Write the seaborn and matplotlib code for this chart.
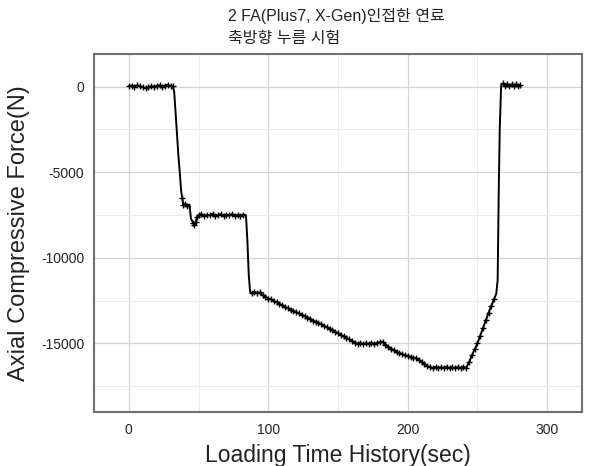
import matplotlib
matplotlib.use("Agg")
import matplotlib.pyplot as plt
import seaborn as sns
import numpy as np
import pandas as pd
from matplotlib.ticker import MultipleLocator

# Data (time in sec, force in N)
time_sec = [0, 2, 4, 6, 8, 10, 12, 14, 16, 18, 20, 22, 24, 26, 28, 30, 31.5,
            32.5, 33.5, 34.5, 35.5, 36.5, 37.5, 38.3, 39, 40.5, 42, 43.5, 44.5, 46, 47, 48, 49, 50,
            52, 54, 56, 58, 60, 62, 64, 66, 68, 70, 72, 74, 76, 78, 80, 82, 84,
            85, 86, 87, 88, 90, 92, 94, 96,
            98, 100, 102, 104, 106, 108, 110, 112, 114, 116, 118, 120, 122, 124, 126, 128,
            130, 132, 134, 136, 138, 140, 142, 144, 146, 148, 150, 152, 154, 156, 158, 160, 162,
            164, 166, 168, 170, 172, 174, 176, 178, 180, 182, 184, 186, 188, 190, 192, 194, 196,
            198, 200, 202, 204, 206, 208, 210, 212, 214, 216, 218, 220, 222, 224, 226, 228, 230,
            232, 234, 236, 238, 240, 242, 244, 246, 248, 250, 252, 254, 256, 258, 260, 262,
            263.5, 264.5, 265.3, 266, 267, 268.5, 270, 271.5, 273, 274.5, 276, 277.5, 279, 280.5]
force_n = [30, 60, -20, 80, 10, -40, -90, -30, 20, -10, 40, 70, 0, 60, 110, 40, 20,
           -300, -1500, -2800, -4000, -5000, -6100, -6500, -6900, -6850, -6950, -6900, -7700, -7950, -8100, -7900, -7600, -7500,
           -7450, -7550, -7480, -7520, -7440, -7560, -7500, -7460, -7540, -7480, -7520, -7450, -7550, -7490, -7530, -7470, -7520,
           -9000, -11000, -12000, -12080, -11980, -12060, -12020, -12180,
           -12260, -12380, -12420, -12540, -12580, -12700, -12760, -12880, -12920, -13030, -13080, -13180, -13240, -13330, -13390, -13490,
           -13560, -13660, -13720, -13820, -13880, -13980, -14040, -14140, -14210, -14310, -14400, -14490, -14580, -14670, -14760, -14860, -14950,
           -15010, -14960, -15040, -14980, -15020, -14950, -15030, -14960, -14920, -14900, -15060, -15180, -15300, -15390, -15480, -15580, -15620,
           -15700, -15720, -15780, -15820, -15870, -15960, -16080, -16200, -16300, -16380, -16420, -16360, -16440, -16380, -16420, -16350, -16450,
           -16390, -16430, -16370, -16440, -16380, -16420, -16100, -15700, -15350, -15000, -14550, -14100, -13650, -13200, -12800, -12400,
           -12100, -11300, -6000, -2500, 100, 180, 60, 140, 50, 120, 40, 130, 60, 100]

x_ticks = [0, 100, 200, 300]
y_ticks = [0, -5000, -10000, -15000]
title_lines = ["2 FA(Plus7, X-Gen)인접한 연료", "축방향 누름 시험"]

df = pd.DataFrame({"time": time_sec, "force": force_n})

# only put the little '+' marks where the signal is not jumping
f = np.array(force_n)
jump = np.abs(np.diff(f)) > 700
steep = np.zeros(len(f), dtype=bool)
steep[1:] |= jump
steep[:-1] |= jump
mark_mask = list(~steep)

sns.set_style("white")
plt.rcParams['font.family'] = ['Liberation Sans', 'Noto Sans CJK KR', 'DejaVu Sans']
plt.rcParams['axes.unicode_minus'] = False

fig = plt.figure(figsize=(5.9, 4.66), dpi=100)
ax = fig.add_axes([94/590, 1-412/466, (582-94)/590, (412-54)/466])

sns.lineplot(data=df, x="time", y="force", sort=False, estimator=None, ax=ax,
             color="black", linewidth=1.4, marker="+", markersize=4.5,
             markeredgewidth=1.0, markeredgecolor="black", markevery=mark_mask)

ax.set_xlim(-25, 325)
ax.set_ylim(-19000, 1900)
ax.set_xticks(x_ticks)
ax.set_yticks(y_ticks)
ax.xaxis.set_minor_locator(MultipleLocator(50))
ax.yaxis.set_minor_locator(MultipleLocator(2500))
ax.grid(which="major", color="#d4d4d4", linewidth=0.9)
ax.grid(which="minor", color="#ececec", linewidth=0.7)
ax.set_axisbelow(True)

ax.tick_params(axis="x", which="major", direction="in", length=4, width=1, color="#555555",
               labelsize=10, pad=8, labelcolor="#222222")
ax.tick_params(axis="x", which="minor", direction="in", length=2.5, width=1, color="#555555")
ax.tick_params(axis="y", which="both", length=0, labelsize=10, pad=7, labelcolor="#222222")

for s in ax.spines.values():
    s.set_color("#707070")
    s.set_linewidth(1.5)

ax.set_xlabel("Loading Time History(sec)", fontsize=16.5, labelpad=5, color="#222222")
ax.set_ylabel("Axial Compressive Force(N)", fontsize=17, labelpad=8, color="#222222")

fig.text(228/590, 1-16/466, title_lines[0], fontsize=11.5, ha="left", va="center", color="#222222")
fig.text(228/590, 1-38/466, title_lines[1], fontsize=11.5, ha="left", va="center", color="#222222")

fig.savefig("out.png", dpi=100)
